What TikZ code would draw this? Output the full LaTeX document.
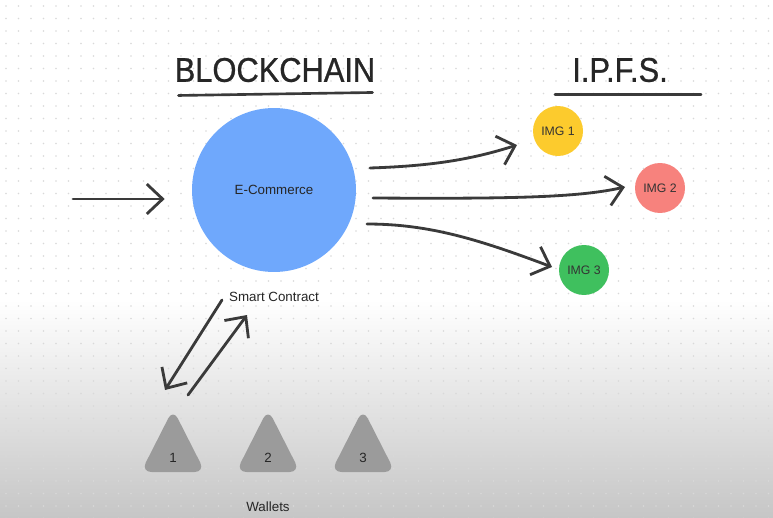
\documentclass[tikz,border=0pt]{standalone}
\usepackage{fontspec}
\setmainfont{Liberation Sans}
\newfontfamily\headfont[FakeStretch=0.9, FakeBold=0.8]{Liberation Sans}
\usetikzlibrary{arrows.meta, positioning, calc}
\definecolor{ecomblue}{HTML}{6FA8FC}
\definecolor{imgyellow}{HTML}{FCCB2D}
\definecolor{imgred}{HTML}{F7827D}
\definecolor{imggreen}{HTML}{3FC05E}
\definecolor{walletgray}{HTML}{9B9B9B}
\definecolor{inkgray}{HTML}{3A3A3A}
\definecolor{shadegray}{HTML}{C6C6C6}

\begin{document}
\begin{tikzpicture}[
    x=0.02cm, y=-0.02cm,
    title/.style={font=\headfont\fontsize{19.5}{22}\selectfont, text=black!85, inner sep=0pt},
    lbl/.style={font=\fontsize{7.6}{9}\selectfont, text=black!85, inner sep=0pt},
    img/.style={circle, minimum size=1cm, inner sep=0pt, font=\fontsize{7}{8}\selectfont, text=black!80},
    wallet/.style={fill=walletgray, rounded corners=6pt},
    inkarr/.style={-{Straight Barb[length=9pt, width=17pt]}, line width=1.6pt, inkgray, line cap=round, line join=round},
    uline/.style={line width=1.5pt, inkgray, line cap=round},
]
    \useasboundingbox (0,0) rectangle (773,517);
    \fill[white] (0,0) rectangle (773,517);
    \shade[top color=white, bottom color=shadegray] (0,300) rectangle (773,517);

    % Dot grid
    \foreach \i in {0,...,61}
        \foreach \j in {0,...,41}
            \fill[black!15] (6+12.5*\i, 6+12.5*\j) circle[radius=0.9];

    % Titles
    \node[title] (bc) at (275,70) {BLOCKCHAIN};
    \node[title] (ipfs) at (620,70) {I.P.F.S.};
    \draw[uline] ($(bc.south west)+(4,13)$) -- ($(bc.south east)+(-3,10)$);
    \draw[uline] ($(ipfs.south west)+(-17,12)$) -- ($(ipfs.south east)+(33,12)$);

    % Contract and images
    \node[circle, fill=ecomblue, minimum size=3.28cm, inner sep=0pt, lbl] (ecom) at (274,190) {E-Commerce};
    \node[lbl, below=0.38cm of ecom] (sc) {Smart Contract};
    \node[img, fill=imgyellow] (img1) at (558,131) {IMG 1};
    \node[img, fill=imgred] (img2) at (660,188) {IMG 2};
    \node[img, fill=imggreen] (img3) at (584,270) {IMG 3};

    % Wallets
    \foreach \x/\n in {173/1, 268/2, 363/3} {
        \fill[wallet] (\x,409) -- (\x+32,472) -- (\x-32,472) -- cycle;
        \node[lbl] (w\n) at (\x,458) {\n};
    }
    \node[lbl] (wl) at (268,507) {Wallets};

    % Arrows
    \coordinate (in0) at (73,199);
    \coordinate (s1) at (370,168);
    \coordinate (t1) at (517,145);
    \coordinate (s2) at (373,198);
    \coordinate (t2) at (625,187);
    \coordinate (s3) at (367,224);
    \coordinate (t3) at (552,267);
    \coordinate (dn0) at (222,300);
    \coordinate (dn1) at (165,390);
    \coordinate (up0) at (188,395);
    \coordinate (up1) at (247,315);

    \draw[inkarr, shorten >=0.54cm] (in0) -- (in0 -| ecom.west);
    \draw[inkarr] (s1) .. controls (430,166) and (470,160) .. (t1);
    \draw[inkarr] (s2) .. controls (520,199) and (580,197) .. (t2);
    \draw[inkarr] (s3) .. controls (430,224) and (480,240) .. (t3);
    \draw[inkarr] (dn0) -- (dn1);
    \draw[inkarr] (up0) -- (up1);
\end{tikzpicture}
\end{document}
